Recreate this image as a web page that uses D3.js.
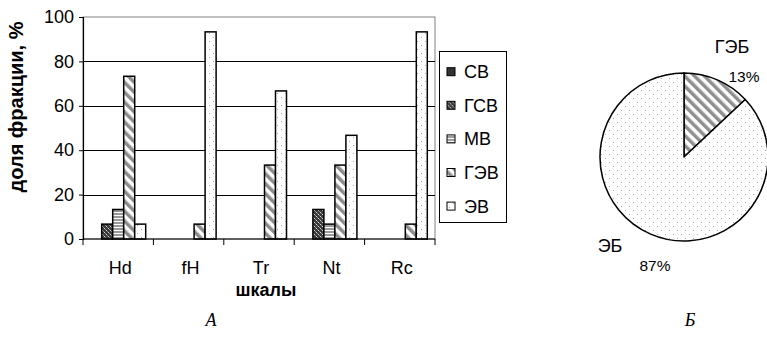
<!DOCTYPE html>
<html>
<head>
<meta charset="utf-8">
<script src="https://cdn.jsdelivr.net/npm/d3@7"></script>
<style>
  html, body { margin: 0; padding: 0; background: #fff; }
  svg { display: block; }
  text { font-family: "Liberation Sans", Arial, sans-serif; fill: #000; }
</style>
</head>
<body>
<svg id="chart" width="767" height="337"></svg>
<script>
// Scales on the x axis and the bar series
const categories = ["Hd", "fH", "Tr", "Nt", "Rc"];
const seriesNames = ["СВ", "ГСВ", "МВ", "ГЭВ", "ЭВ"];

// Fraction share (%) of each series per scale
const valuesCB  = [0, 0, 0, 0, 0];
const valuesGCB = [6.7, 0, 0, 13.3, 0];
const valuesMB  = [13.3, 0, 0, 6.7, 0];
const valuesGEB = [73.3, 6.7, 33.3, 33.3, 6.7];
const valuesEB  = [6.7, 93.3, 66.7, 46.7, 93.3];

const yTicks = [0, 20, 40, 60, 80, 100];

// Pie: share of the two groups
const pieLabels = ["ГЭБ", "ЭБ"];
const pieValues = [13, 87];

const svg = d3.select("#chart");
const defs = svg.append("defs");

// ---- fill patterns ----
// dark cross-hatch
const pGCB = defs.append("pattern").attr("id", "p-gcb").attr("patternUnits", "userSpaceOnUse")
  .attr("width", 4).attr("height", 4);
pGCB.append("rect").attr("width", 4).attr("height", 4).attr("fill", "#3a3a3a");
pGCB.append("rect").attr("x", 0).attr("y", 0).attr("width", 1).attr("height", 1).attr("fill", "#d8d8d8");
pGCB.append("rect").attr("x", 2).attr("y", 2).attr("width", 1).attr("height", 1).attr("fill", "#d8d8d8");
pGCB.append("rect").attr("x", 1).attr("y", 1).attr("width", 1).attr("height", 1).attr("fill", "#888");
pGCB.append("rect").attr("x", 3).attr("y", 3).attr("width", 1).attr("height", 1).attr("fill", "#888");

// horizontal stripes
const pMB = defs.append("pattern").attr("id", "p-mb").attr("patternUnits", "userSpaceOnUse")
  .attr("width", 4).attr("height", 3);
pMB.append("rect").attr("width", 4).attr("height", 3).attr("fill", "#fff");
pMB.append("rect").attr("y", 0).attr("width", 4).attr("height", 2).attr("fill", "#9a9a9a");

// wide diagonal stripes (bars)
const pGEB = defs.append("pattern").attr("id", "p-geb").attr("patternUnits", "userSpaceOnUse")
  .attr("width", 7).attr("height", 7).attr("patternTransform", "rotate(-45)");
pGEB.append("rect").attr("width", 7).attr("height", 7).attr("fill", "#fff");
pGEB.append("rect").attr("width", 3.5).attr("height", 7).attr("fill", "#8c8c8c");

// sparse dots
const pEB = defs.append("pattern").attr("id", "p-eb").attr("patternUnits", "userSpaceOnUse")
  .attr("width", 8).attr("height", 8);
pEB.append("rect").attr("width", 8).attr("height", 8).attr("fill", "#fff");
pEB.append("rect").attr("x", 1).attr("y", 1).attr("width", 1).attr("height", 1).attr("fill", "#a8a8a8");
pEB.append("rect").attr("x", 5).attr("y", 5).attr("width", 1).attr("height", 1).attr("fill", "#a8a8a8");

// diagonal stripes (pie)
const pPie = defs.append("pattern").attr("id", "p-pie").attr("patternUnits", "userSpaceOnUse")
  .attr("width", 7).attr("height", 7).attr("patternTransform", "rotate(-45)");
pPie.append("rect").attr("width", 7).attr("height", 7).attr("fill", "#fff");
pPie.append("rect").attr("width", 3.5).attr("height", 7).attr("fill", "#8f8f8f");

const seriesFill = ["#333", "url(#p-gcb)", "url(#p-mb)", "url(#p-geb)", "url(#p-eb)"];
const seriesValues = [valuesCB, valuesGCB, valuesMB, valuesGEB, valuesEB];

const FONT = 18;

// ---- bar chart ----
const plot = { left: 83, right: 435, top: 17, bottom: 239 };

const x = d3.scaleBand().domain(categories).range([plot.left, plot.right]).padding(0);
const xs = d3.scaleBand().domain(seriesNames).range([0, x.bandwidth()]).paddingInner(0).paddingOuter(0.7);
const y = d3.scaleLinear().domain([0, 100]).range([plot.bottom, plot.top]);

// plot area frame
svg.append("rect")
  .attr("x", plot.left).attr("y", plot.top)
  .attr("width", plot.right - plot.left).attr("height", plot.bottom - plot.top)
  .attr("fill", "none").attr("stroke", "#808080").attr("stroke-width", 1);

// gridlines
svg.append("g").selectAll("line")
  .data(yTicks.filter(t => t > 0 && t < 100))
  .join("line")
  .attr("x1", plot.left).attr("x2", plot.right)
  .attr("y1", d => Math.round(y(d)) + 0.5).attr("y2", d => Math.round(y(d)) + 0.5)
  .attr("stroke", "#000").attr("stroke-width", 1);

// bars
const barData = [];
categories.forEach((c, i) => {
  seriesNames.forEach((s, j) => {
    barData.push({ cat: c, series: s, idx: j, value: seriesValues[j][i] });
  });
});

svg.append("g").selectAll("rect")
  .data(barData.filter(d => d.value > 0))
  .join("rect")
  .attr("x", d => x(d.cat) + xs(d.series))
  .attr("y", d => y(d.value))
  .attr("width", xs.bandwidth())
  .attr("height", d => y(0) - y(d.value))
  .attr("fill", d => seriesFill[d.idx])
  .attr("stroke", "#000").attr("stroke-width", 1.5);

// y axis
const yAxis = svg.append("g")
  .attr("transform", `translate(${plot.left},0)`)
  .call(d3.axisLeft(y).tickValues(yTicks).tickSize(4).tickPadding(5));
yAxis.select(".domain").attr("stroke", "#000").attr("stroke-width", 1.2);
yAxis.selectAll(".tick line").attr("stroke", "#000");
yAxis.selectAll(".tick text").attr("font-size", FONT).attr("font-family", null);

// x axis: tick marks on category boundaries, labels at centres
const xAxisG = svg.append("g");
xAxisG.append("line")
  .attr("x1", plot.left).attr("x2", plot.right)
  .attr("y1", plot.bottom).attr("y2", plot.bottom)
  .attr("stroke", "#000").attr("stroke-width", 1.2);
const boundaries = categories.map(c => x(c)).concat([x(categories[categories.length - 1]) + x.bandwidth()]);
xAxisG.selectAll("line.tk")
  .data(boundaries)
  .join("line").attr("class", "tk")
  .attr("x1", d => d).attr("x2", d => d)
  .attr("y1", plot.bottom).attr("y2", plot.bottom + 6)
  .attr("stroke", "#000");
xAxisG.selectAll("text")
  .data(categories)
  .join("text")
  .attr("x", d => x(d) + x.bandwidth() / 2 + 2)
  .attr("y", 274)
  .attr("text-anchor", "middle")
  .attr("font-size", FONT)
  .text(d => d);

// axis titles
svg.append("text")
  .attr("transform", "translate(23,107) rotate(-90)")
  .attr("text-anchor", "middle")
  .attr("font-size", 20).attr("font-weight", "bold")
  .text("доля фракции, %");
svg.append("text")
  .attr("x", 266).attr("y", 296)
  .attr("text-anchor", "middle")
  .attr("font-size", FONT).attr("font-weight", "bold")
  .text("шкалы");

// legend
const legend = svg.append("g");
legend.append("rect")
  .attr("x", 439.5).attr("y", 51.5).attr("width", 67).attr("height", 171)
  .attr("fill", "#fff").attr("stroke", "#000").attr("stroke-width", 1);
const legendItems = legend.selectAll("g.item")
  .data(seriesNames)
  .join("g").attr("class", "item")
  .attr("transform", (d, i) => `translate(0,${71.7 + i * 33.6})`);
legendItems.append("rect")
  .attr("x", 447).attr("y", -4).attr("width", 8).attr("height", 8)
  .attr("fill", (d, i) => seriesFill[i])
  .attr("stroke", "#000").attr("stroke-width", 1);
legendItems.append("text")
  .attr("x", 464).attr("y", 6.5)
  .attr("font-size", FONT)
  .text(d => d);

// ---- pie chart ----
const pieCenter = [684, 157];
const radius = 84;
const pie = d3.pie().sort(null).value(d => d);
const arc = d3.arc().innerRadius(0).outerRadius(radius);
const pieFill = ["url(#p-pie)", "url(#p-eb)"];

const pieG = svg.append("g").attr("transform", `translate(${pieCenter[0]},${pieCenter[1]})`);
pieG.selectAll("path")
  .data(pie(pieValues))
  .join("path")
  .attr("d", arc)
  .attr("fill", (d, i) => pieFill[i])
  .attr("stroke", "#000").attr("stroke-width", 1.5)
  .attr("stroke-linejoin", "round");

// pie labels
const pieLabelPos = [
  { name: [732, 53], pct: [744, 82] },
  { name: [610, 252], pct: [655, 271] }
];
pieLabels.forEach((lbl, i) => {
  svg.append("text")
    .attr("x", pieLabelPos[i].name[0]).attr("y", pieLabelPos[i].name[1])
    .attr("text-anchor", "middle").attr("font-size", FONT)
    .text(lbl);
  svg.append("text")
    .attr("x", pieLabelPos[i].pct[0]).attr("y", pieLabelPos[i].pct[1])
    .attr("text-anchor", "middle").attr("font-size", 15.5)
    .text(pieValues[i] + "%");
});

// panel captions
[["А", 211], ["Б", 690]].forEach(([t, cx]) => {
  svg.append("text")
    .attr("x", cx).attr("y", 326)
    .attr("text-anchor", "middle")
    .attr("font-style", "italic").attr("font-size", 18)
    .style("font-family", "'Liberation Serif', 'Times New Roman', serif")
    .text(t);
});
</script>
</body>
</html>
